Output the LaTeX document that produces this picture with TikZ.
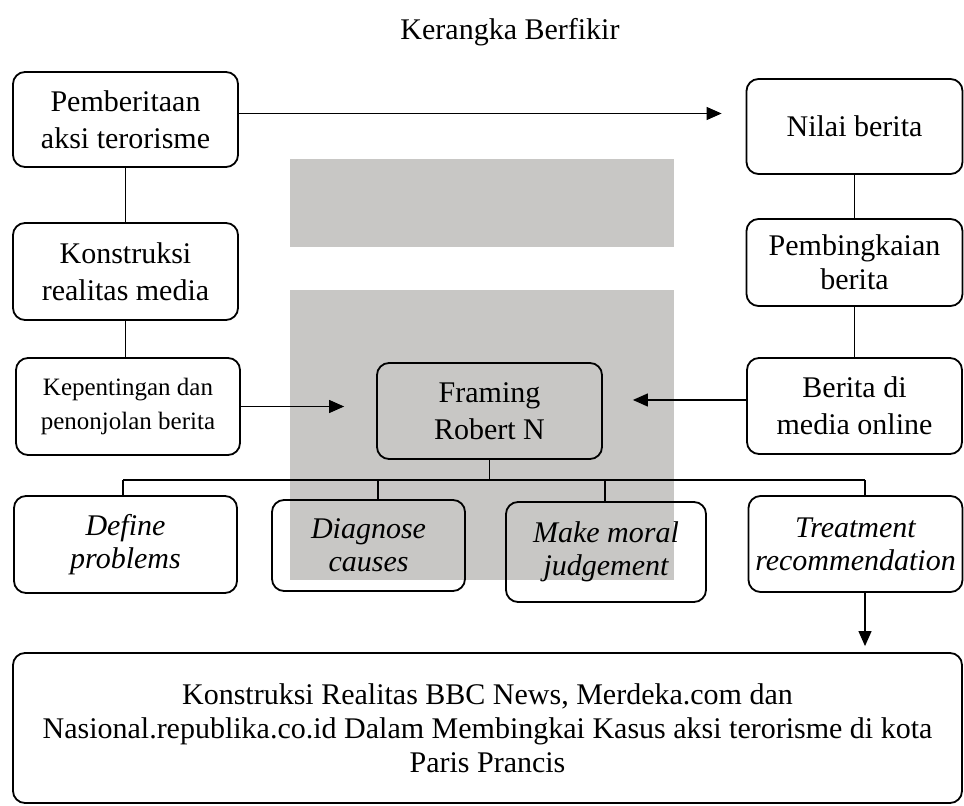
\documentclass[tikz,border=0pt]{standalone}
\usepackage{fontspec}
\setmainfont{Liberation Serif}
\usetikzlibrary{arrows.meta}
\definecolor{wmgray}{RGB}{200,199,197}

\begin{document}
\begin{tikzpicture}[x=0.5pt,y=-0.5pt,
	box/.style={draw, rounded corners=6pt, line width=0.9pt, align=center, inner sep=0pt, font=\fontsize{15}{18.5}\selectfont},
	ibox/.style={box, font=\fontsize{15}{16.5}\selectfont\itshape},
	link/.style={line width=0.6pt},
	arr/.style={line width=0.6pt, -{Triangle[length=7.5pt,width=6.5pt]}}]
	\def \fork{ 480 };
	\useasboundingbox (0,0) rectangle (964,806);
	\fill[wmgray] (290,159) rectangle (674,247);
	\fill[wmgray] (290,290) rectangle (674,580);

	\node (title) at (510,32) {\fontsize{15}{18}\selectfont Kerangka Berfikir};
	\node[box, minimum width=112.5pt, minimum height=47.5pt] (pemb) at (125.5,119.5) {Pemberitaan\\aksi terorisme};
	\node[box, minimum width=112.5pt, minimum height=48.5pt] (konstr) at (125.5,271.5) {Konstruksi\\realitas media};
	\node[box, minimum width=112pt, minimum height=48.5pt, font=\fontsize{12.5}{17}\selectfont] (kepent) at (128,406.5) {Kepentingan dan\\penonjolan berita};
	\node[box, minimum width=112.5pt, minimum height=48pt] (framing) at (489.5,411) {Framing\\Robert N};
	\node[box, minimum width=108pt, minimum height=47.5pt] (nilai) at (854.5,126.5) {Nilai berita};
	\node[box, minimum width=108pt, minimum height=43.5pt, font=\fontsize{15}{17}\selectfont] (pembingk) at (854.5,262.5) {Pembingkaian\\berita};
	\node[box, minimum width=107.5pt, minimum height=48pt] (online) at (854.5,406) {Berita di\\media online};
	\node[ibox, minimum width=111.5pt, minimum height=48.5pt] (define) at (125.5,544.5) {Define\\problems};
	\node[ibox, minimum width=96.5pt, minimum height=45.5pt] (diagnose) at (368.5,545.5) {Diagnose\\causes};
	\node[ibox, minimum width=100pt, minimum height=50pt] (moral) at (606,552) {Make moral\\judgement};
	\node[ibox, minimum width=107pt, minimum height=48pt] (treatment) at (855.5,544) {Treatment\\recommendation};
	\node[box, minimum width=474.5pt, minimum height=75pt, font=\fontsize{15}{17}\selectfont] (hasil) at (487.5,728) {Konstruksi Realitas BBC News, Merdeka.com dan\\Nasional.republika.co.id Dalam Membingkai Kasus aksi terorisme di kota\\Paris Prancis};

	\foreach \n/\x in {define/123, diagnose/378, moral/605, treatment/865}
		\coordinate (f\n) at (\x,\fork);

	\draw[arr, shorten >=12pt] ([yshift=3pt]pemb.east) -- ([yshift=3pt]pemb.east -| nilai.west);
	\draw[link] (pemb) -- (pemb |- konstr.north);
	\draw[link] (konstr.south) -- (konstr.south |- kepent.north);
	\draw[link] (nilai) -- (pembingk);
	\draw[link] (pembingk) -- (online);
	\draw[arr, shorten >=16pt] (kepent.east) -- (kepent.east -| framing.west);
	\draw[arr, shorten >=15pt] ([yshift=3pt]online.west) -- ([yshift=3pt]online.west -| framing.east);
	\draw[link] (framing.south) -- (framing.south |- fdefine);
	\draw[link] (fdefine) -- (ftreatment);
	\foreach \n in {define, diagnose, moral, treatment}
		\draw[link] (f\n) -- (f\n |- \n.north);
	\draw[arr, shorten >=3pt] (ftreatment |- treatment.south) -- (ftreatment |- hasil.north);
\end{tikzpicture}
\end{document}
